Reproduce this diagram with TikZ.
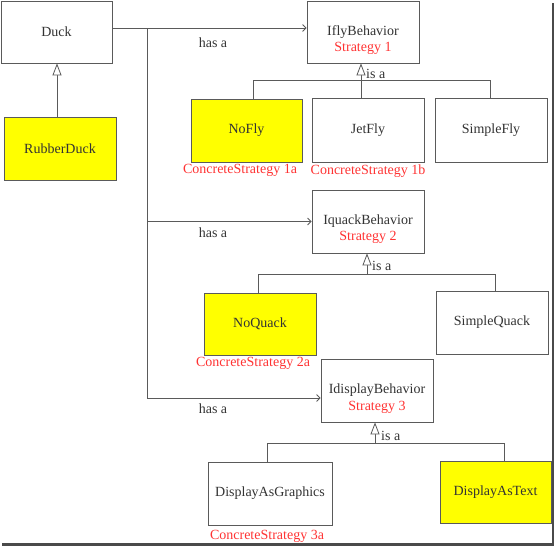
\documentclass[tikz,border=0pt]{standalone}
\usepackage{fontspec}
\setmainfont{Liberation Serif}
\usetikzlibrary{arrows.meta,calc,positioning}
\definecolor{boxline}{HTML}{5A5A5A}
\definecolor{ink}{HTML}{333333}
\definecolor{stratred}{HTML}{FF3333}
\definecolor{duckyellow}{HTML}{FFFF00}
\definecolor{shadowgray}{HTML}{4A4A4A}
\newcommand{\labelfont}{\fontsize{14}{16}\selectfont}
\tikzset{
  cls/.style    = {draw=boxline, line width=0.8pt, fill=white, text=ink,
                   minimum width=112pt, minimum height=63pt, inner sep=0pt,
                   font=\labelfont},
  impl/.style   = {cls, fill=duckyellow},
  strat/.style  = {text=stratred, inner sep=0pt, font=\labelfont},
  lbl/.style    = {text=ink, inner sep=0pt, font=\labelfont},
  wire/.style   = {draw=boxline, line width=0.8pt},
  hasa/.style   = {wire, -{Straight Barb[length=3.5pt,width=7pt]}},
  isa/.style    = {wire, -{Triangle[open,fill=white,length=12pt,width=9pt]}},
}

\begin{document}
\begin{tikzpicture}[x=1pt,y=-1pt]
  \useasboundingbox (0,0) rectangle (556,549);
  % frame shadow
  \fill[shadowgray] (551.5,3) rectangle (554,546);
  \fill[shadowgray] (2,543) rectangle (554,546);

  % clients
  \node[cls, minimum width=111pt, minimum height=62pt] (duck) at (56.5,32) {Duck};
  \node[impl] (rubber) at (60,148.5) {RubberDuck};
  \draw[isa] (rubber.north -| 57,0) -- (duck.south -| 57,0);

  % strategy 1
  \node[cls, minimum height=62pt] (ifly) at (363,32) {IflyBehavior};
  \node[strat] (s1) at ($(ifly)+(0,16)$) {Strategy 1};
  \node[impl, minimum width=111pt] (nofly) at (246.5,130.5) {NoFly};
  \node[cls, minimum height=64pt] (jetfly) at (368,130) {JetFly};
  \node[cls, minimum height=64pt] (simplefly) at (491,130) {SimpleFly};
  \node[strat, below=2pt of nofly, xshift=-6.5pt] (cs1a) {ConcreteStrategy 1a};
  \node[strat, below=2pt of jetfly] (cs1b) {ConcreteStrategy 1b};

  % strategy 2
  \node[cls] (iquack) at (368,221.5) {IquackBehavior};
  \node[strat] (s2) at ($(iquack)+(0,15.5)$) {Strategy 2};
  \node[impl, minimum height=62pt] (noquack) at (260,324) {NoQuack};
  \node[cls] (simplequack) at (492,322.5) {SimpleQuack};
  \node[strat, below=2pt of noquack, xshift=-7pt] (cs2a) {ConcreteStrategy 2a};

  % strategy 3
  \node[cls] (idisplay) at (377,390.5) {IdisplayBehavior};
  \node[strat] (s3) at ($(idisplay)+(0,16.5)$) {Strategy 3};
  \node[cls, minimum width=124pt] (graphics) at (270,493.5) {DisplayAsGraphics};
  \node[impl, minimum width=111pt, minimum height=62pt] (textout) at (495.5,492) {DisplayAsText};
  \node[strat, below=5pt of graphics, xshift=-3pt] (cs3a) {ConcreteStrategy 3a};

  % has a
  \coordinate (hasTop) at (147,28);
  \coordinate (hasBot) at (147,398);
  \draw[wire] (hasTop) -- (hasBot);
  \draw[hasa] (duck.east |- hasTop) -- (ifly.west |- hasTop);
  \draw[hasa] (hasTop |- iquack.west) -- (iquack.west);
  \draw[hasa] (hasBot) -- (idisplay.west |- hasBot);
  \node[lbl] (has1) at (213,43) {has a};
  \node[lbl] (has2) at (213,233) {has a};
  \node[lbl] (has3) at (213,409) {has a};

  % is a
  \coordinate (bar1l) at (253,80);
  \coordinate (bar1m) at (361,80);
  \coordinate (bar1r) at (490,80);
  \draw[wire] (nofly.north -| bar1l) -- (bar1l) -- (bar1r) -- (simplefly.north -| bar1r);
  \draw[isa] (jetfly.north -| bar1m) -- (ifly.south -| bar1m);
  \node[lbl, anchor=west] (isa1) at (366,74) {is a};

  \coordinate (bar2l) at (258,274);
  \coordinate (bar2m) at (367,274);
  \coordinate (bar2r) at (495,274);
  \draw[wire] (noquack.north -| bar2l) -- (bar2l) -- (bar2r) -- (simplequack.north -| bar2r);
  \draw[isa] (bar2m) -- (iquack.south -| bar2m);
  \node[lbl, anchor=west] (isa2) at (372,266) {is a};

  \coordinate (bar3l) at (267,443);
  \coordinate (bar3m) at (375,443);
  \coordinate (bar3r) at (504,443);
  \draw[wire] (graphics.north -| bar3l) -- (bar3l) -- (bar3r) -- (textout.north -| bar3r);
  \draw[isa] (bar3m) -- (idisplay.south -| bar3m);
  \node[lbl, anchor=west] (isa3) at (381,436) {is a};
\end{tikzpicture}
\end{document}
